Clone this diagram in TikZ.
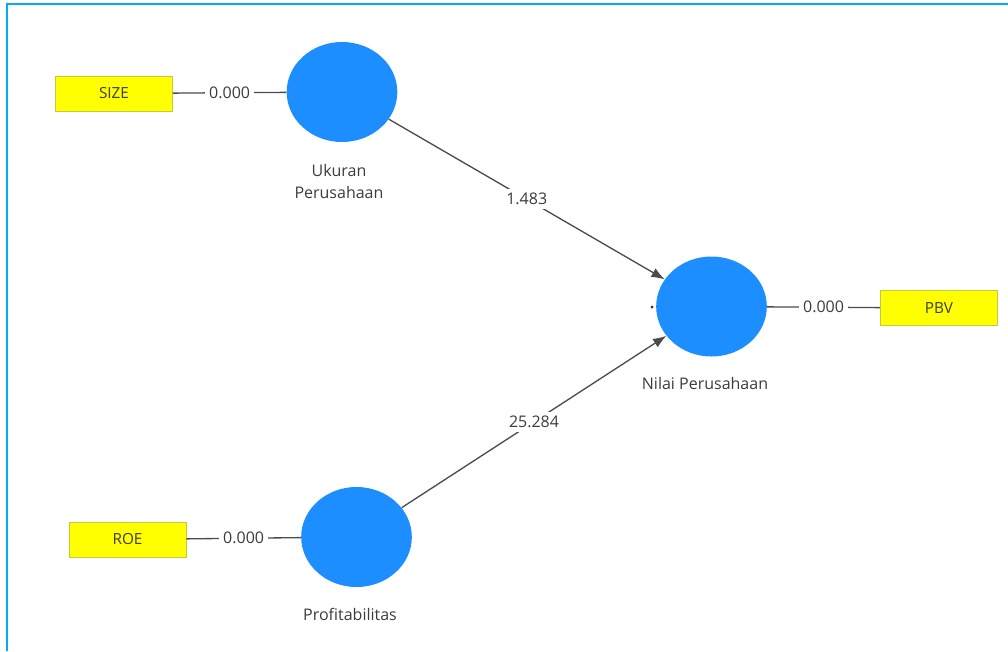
\documentclass[tikz,border=0pt]{standalone}
\usepackage{fontspec}
\setmainfont{Open Sans}
\usetikzlibrary{shapes.geometric, arrows.meta}
\definecolor{lvblue}{RGB}{28,142,255}
\definecolor{mvyellow}{RGB}{255,255,0}
\definecolor{mvedge}{RGB}{200,200,60}
\definecolor{framecyan}{RGB}{0,174,239}
\definecolor{txtgray}{RGB}{60,60,60}

\begin{document}
\begin{tikzpicture}[x=0.75pt, y=-0.75pt,
	latent/.style={ellipse, fill=lvblue, minimum width=83pt, minimum height=75pt, inner sep=0pt},
	indicator/.style={rectangle, fill=mvyellow, draw=mvedge, minimum width=88pt, minimum height=26pt, text=txtgray, font=\fontsize{11.5}{13}\selectfont},
	coef/.style={fill=white, inner sep=3pt, text=txtgray, font=\fontsize{12}{14}\selectfont}, % white fill breaks the line at the value
	lvname/.style={align=center, text=txtgray, font=\fontsize{12}{16.5}\selectfont},
	link/.style={draw=black!70, line width=1pt}]

	\useasboundingbox (0,0) rectangle (1008,651);
	\draw[framecyan, line width=1.6pt] (7,651) -- (7,4) -- (1008,4);

	\node[latent] (ukuran) at (342,92) {};
	\node[latent] (profit) at (356.5,537) {};
	\node[latent] (nilai) at (711.5,306.5) {};

	\node[indicator] (size) at (114,93.5) {SIZE};
	\node[indicator] (roe) at (127.5,539.5) {ROE};
	\node[indicator] (pbv) at (939,308) {PBV};

	\node[lvname] (lblukuran) at (339,181) {Ukuran\\Perusahaan};
	\node[lvname] (lblprofit) at (350,614) {Profitabilitas};
	\node[lvname] (lblnilai) at (705,383) {Nilai Perusahaan};
	\node[circle, fill=black!80, inner sep=0.8pt] (dot) at (652,307) {};

	\draw[link] (size) -- node[coef] {0.000} (ukuran);
	\draw[link] (roe) -- node[coef] {0.000} (profit);
	\draw[link] (nilai) -- node[coef] {0.000} (pbv);

	\draw[link, -{Latex[length=10pt, width=7.5pt]}] (ukuran) -- node[coef] {1.483} (nilai);
	\draw[link, -{Latex[length=10pt, width=7.5pt]}] (profit) -- node[coef] {25.284} (nilai);

\end{tikzpicture}
\end{document}
